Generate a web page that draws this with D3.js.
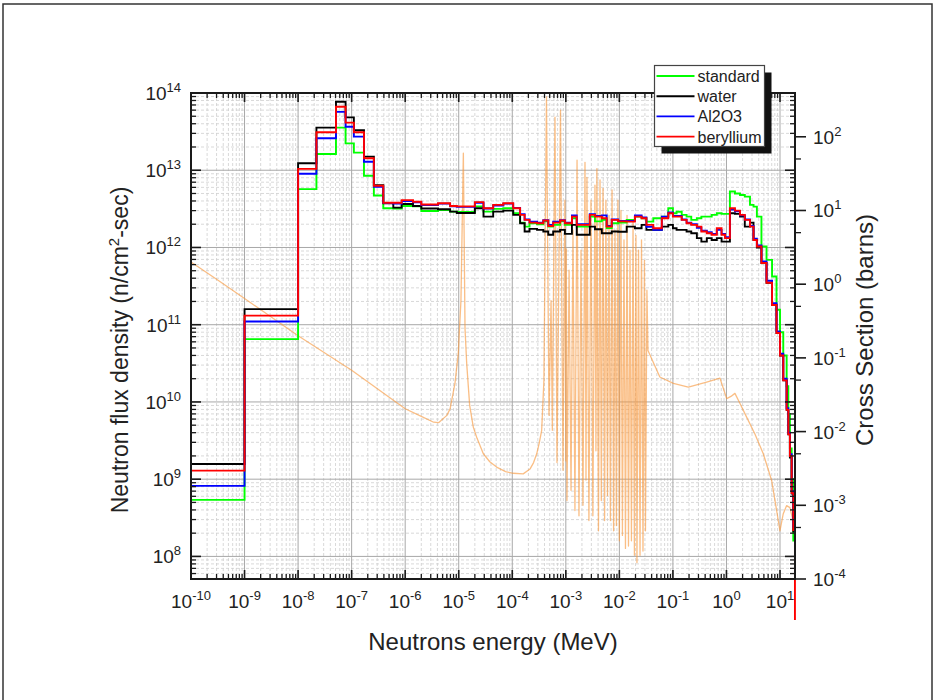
<!DOCTYPE html>
<html><head><meta charset="utf-8">
<script src="https://cdn.jsdelivr.net/npm/d3@7"></script>
<style>body{margin:0;background:#fff} svg{display:block} text{font-family:"Liberation Sans",Arial,sans-serif;fill:#222}</style>
</head><body><svg id="c" width="936" height="700"></svg>
<script>
// ---------- DATA ----------
const energyEdges = [1e-10,1e-9,1e-8,2.2e-8,5.1e-8,7.7e-8,1.1e-7,1.7e-7,2.6e-7,3.9e-7,6.0e-7,8.6e-7,1.4e-6,2.0e-6,4.1e-6,6.9e-6,9.2e-6,2.0e-5,2.9e-5,4.4e-5,6.8e-5,1.04e-4,1.4e-4,1.7e-4,2.1e-4,2.9e-4,3.8e-4,4.7e-4,5.8e-4,7.8e-4,9.6e-4,1.3e-3,1.6e-3,2.8e-3,3.5e-3,4.7e-3,5.8e-3,7.2e-3,9.5e-3,1.37e-2,1.95e-2,2.6e-2,3.2e-2,4.3e-2,6.2e-2,8.2e-2,0.10,0.117,0.146,0.18,0.22,0.28,0.34,0.43,0.53,0.66,0.81,0.94,1.16,1.44,1.79,2.2,2.75,3.2,3.7,4.5,5.6,7.1,8.6,10,11.5,13.3,14.3,15.3,16.5,17.7,19.0];

const fluxStandard = [5.4e8,6.5e10,5.7e12,1.62e13,3.56e13,2.23e13,1.69e13,8.5e12,4.7e12,3.22e12,3.2e12,3.45e12,3.4e12,2.97e12,3.06e12,2.91e12,2.88e12,3.4e12,2.91e12,3.16e12,3.22e12,2.78e12,2.1e12,1.86e12,2.06e12,2.0e12,2.18e12,1.86e12,1.96e12,2.18e12,1.96e12,2.39e12,1.86e12,2.51e12,2.18e12,2.28e12,1.78e12,2.06e12,2.1e12,2.28e12,2.51e12,2.39e12,2.16e12,2.39e12,2.51e12,3.22e12,2.78e12,2.9e12,2.64e12,2.51e12,2.28e12,2.39e12,2.51e12,2.51e12,2.64e12,2.78e12,2.72e12,2.72e12,5.3e12,5.0e12,4.79e12,4.56e12,3.56e12,3.38e12,2.51e12,1.03e12,6.9e11,4.2e11,1.56e11,8e10,4e10,1.6e10,7e9,2.5e9,1.0e9,1.6e8];

const fluxWater = [1.57e9,1.59e11,1.23e13,3.56e13,7.7e13,4.84e13,3.3e13,1.5e13,6.4e12,3.74e12,3.28e12,3.66e12,3.45e12,3.2e12,3.13e12,2.91e12,2.8e12,3.22e12,2.51e12,2.91e12,3.0e12,2.64e12,2.06e12,1.61e12,1.74e12,1.69e12,1.61e12,1.46e12,1.61e12,1.69e12,1.5e12,1.96e12,1.46e12,1.86e12,1.72e12,1.53e12,1.53e12,1.61e12,1.6e12,1.86e12,1.77e12,1.96e12,1.69e12,1.69e12,1.86e12,1.96e12,1.77e12,1.69e12,1.69e12,1.61e12,1.53e12,1.32e12,1.19e12,1.32e12,1.25e12,1.32e12,1.19e12,1.19e12,2.78e12,2.72e12,2.51e12,1.86e12,2.1e12,1.25e12,1.0e12,6.3e11,3.5e11,1.8e11,7.8e10,4.0e10,1.9e10,7.9e9,3.8e9,1.9e9,6.5e8,2.1e8];

const fluxAl2O3 = [8.2e8,1.10e11,9.0e12,2.6e13,5.7e13,3.66e13,2.72e13,1.29e13,6.1e12,3.75e12,3.7e12,4.0e12,3.85e12,3.55e12,3.7e12,3.4e12,3.35e12,3.8e12,3.2e12,3.5e12,3.7e12,3.25e12,2.7e12,2.3e12,2.15e12,2.1e12,2.25e12,1.95e12,2.15e12,2.25e12,2.1e12,2.6e12,2.0e12,2.7e12,2.55e12,2.6e12,1.9e12,2.3e12,2.2e12,2.2e12,2.6e12,2.45e12,1.85e12,1.69e12,2.5e12,2.85e12,2.55e12,2.55e12,2.3e12,2.1e12,2.0e12,1.8e12,1.65e12,1.58e12,1.5e12,1.69e12,1.5e12,1.36e12,3.1e12,2.95e12,2.6e12,2.3e12,1.9e12,1.3e12,1.06e12,6.6e11,3.7e11,1.9e11,8.2e10,4.2e10,2.0e10,8.3e9,4.0e9,2.1e9,7.0e8,2.4e8];

const fluxBeryllium = [1.29e9,1.31e11,1.04e13,3.1e13,6.65e13,4.13e13,3.1e13,1.43e13,6.3e12,3.8e12,3.8e12,4.1e12,3.9e12,3.6e12,3.74e12,3.45e12,3.4e12,3.86e12,3.22e12,3.56e12,3.74e12,3.22e12,2.64e12,2.28e12,2.1e12,2.06e12,2.23e12,1.9e12,2.1e12,2.23e12,2.06e12,2.51e12,1.96e12,2.64e12,2.51e12,2.39e12,1.86e12,2.28e12,2.18e12,2.16e12,2.51e12,2.39e12,1.96e12,1.77e12,2.39e12,2.78e12,2.51e12,2.51e12,2.28e12,2.06e12,1.96e12,1.86e12,1.61e12,1.53e12,1.46e12,1.77e12,1.46e12,1.32e12,3.22e12,3.0e12,2.64e12,2.28e12,1.86e12,1.25e12,1.03e12,6.3e11,3.5e11,1.8e11,7.8e10,4.0e10,1.9e10,7.9e9,3.8e9,2.0e9,6.6e8,2.2e8];
const berylliumEndValue = 1.5e7;

const xsEnergy = [1e-10,3.2e-10,1e-9,1e-8,1e-7,1e-6,2e-6,3.4e-6,4.2e-6,6.0e-6,6.9e-6,8.5e-6,9.8e-6,1.1e-5,1.22e-5,1.31e-5,1.41e-5,1.6e-5,1.87e-5,2.2e-5,2.88e-5,3.8e-5,5.1e-5,7.5e-5,1.04e-4,1.6e-4,2.14e-4,2.5e-4,2.86e-4,3.2e-4,3.54e-4,3.9e-4,4.35e-4,4.85e-4,5.3e-4,5.6e-4,6.27e-4,6.84e-4,7.95e-4,8.85e-4,9.6e-4,1.0e-3,1.02e-3,1.05e-3,1.15e-3,1.25e-3,1.36e-3,1.48e-3,1.62e-3,1.76e-3,1.92e-3,2.09e-3,2.28e-3,2.38e-3,2.48e-3,2.7e-3,2.95e-3,3.2e-3,3.5e-3,3.65e-3,3.8e-3,4.07e-3,4.35e-3,4.6e-3,4.95e-3,5.3e-3,5.6e-3,6.0e-3,6.4e-3,6.8e-3,7.3e-3,7.8e-3,8.3e-3,8.8e-3,9.4e-3,1.0e-2,1.07e-2,1.14e-2,1.22e-2,1.3e-2,1.39e-2,1.48e-2,1.58e-2,1.68e-2,1.8e-2,1.91e-2,2.04e-2,2.13e-2,2.28e-2,2.43e-2,2.59e-2,2.76e-2,2.94e-2,3.07e-2,3.27e-2,3.42e-2,5.7e-2,0.102,0.194,0.427,0.757,1.01,1.21,1.44,1.79,2.38,3.4,4.87,6.98,8.65,9.97,11.5,13.3,15.3,17.5,19.0];
const xsValue = [2.0,1.13,0.64,0.2,0.068,0.0204,0.0161,0.0134,0.0132,0.0166,0.0204,0.045,0.114,0.6,60,0.25,0.083,0.0227,0.0115,0.0081,0.005,0.0039,0.0033,0.00287,0.00272,0.00267,0.0031,0.0038,0.005,0.0071,0.0104,0.05,347,0.0166,0.6,0.0104,185,0.0038,230,0.003,13.8,0.004,3.0,0.00116,1.55,0.0016,5.4,0.00085,48,0.00072,2.9,0.001,45,0.0022,28,0.00062,13.8,0.00072,22,0.0055,37,0.00045,26,0.00116,20,0.00062,13.8,0.00135,8.6,0.00062,19,0.00045,5.4,0.00053,13.8,0.00033,10,0.00039,4.0,0.00026,8.6,0.00028,2.9,0.00033,7.4,0.00021,4.6,0.000167,2.9,0.00021,4.0,0.00024,2.1,0.00045,0.83,0.126,0.055,0.045,0.040,0.047,0.053,0.028,0.030,0.033,0.024,0.0157,0.0093,0.005,0.00217,0.00085,0.00045,0.00077,0.00099,0.00093,0.00062,0.00033];

const seriesNames = ["standard","water","Al2O3","beryllium"];
const seriesColors = ["#00ff00","#000000","#0000ff","#ff0000"];
const xTickExps = [-10,-9,-8,-7,-6,-5,-4,-3,-2,-1,0,1];
const yLeftTickExps = [8,9,10,11,12,13,14];
const yRightTickExps = [-4,-3,-2,-1,0,1,2];

// ---------- CHART ----------
const svg = d3.select("#c");
const P = {l:191, r:795, t:93, b:579};
const x = d3.scaleLog().domain([1e-10, 19.05]).range([P.l, P.r]);
const yL = d3.scaleLog().domain([5.1e7, 1e14]).range([P.b, P.t]);
const yR = d3.scaleLog().domain([1e-4, 392.6]).range([P.b, P.t]);

function minors(dom){
  const lo=dom[0], hi=dom[1], out=[];
  for(let e=Math.floor(Math.log10(lo)); e<=Math.ceil(Math.log10(hi)); e++)
    for(let m=2;m<=9;m++){ const v=m*Math.pow(10,e); if(v>lo*1.0001 && v<hi/1.0001) out.push(v); }
  return out;
}
const xMin = minors(x.domain()), yMin = minors(yL.domain());
const xMaj = xTickExps.map(e=>Math.pow(10,e));
const yMaj = yLeftTickExps.map(e=>Math.pow(10,e));
const rMaj = yRightTickExps.map(e=>Math.pow(10,e));

// outer frame
svg.append("rect").attr("x",3).attr("y",4).attr("width",929).attr("height",700)
  .attr("fill","none").attr("stroke","#333").attr("stroke-width",1.5);

// grid
const g = svg.append("g");
g.selectAll(".gxm").data(xMin).enter().append("line")
  .attr("x1",d=>x(d)).attr("x2",d=>x(d)).attr("y1",P.t).attr("y2",P.b)
  .attr("stroke","#cfcfcf").attr("stroke-width",0.8).attr("stroke-dasharray","3,2");
g.selectAll(".gym").data(yMin).enter().append("line")
  .attr("y1",d=>yL(d)).attr("y2",d=>yL(d)).attr("x1",P.l).attr("x2",P.r)
  .attr("stroke","#cfcfcf").attr("stroke-width",0.8).attr("stroke-dasharray","3,2");
g.selectAll(".gx").data(xMaj).enter().append("line")
  .attr("x1",d=>x(d)).attr("x2",d=>x(d)).attr("y1",P.t).attr("y2",P.b)
  .attr("stroke","#a8a8a8").attr("stroke-width",1);
g.selectAll(".gy").data(yMaj).enter().append("line")
  .attr("y1",d=>yL(d)).attr("y2",d=>yL(d)).attr("x1",P.l).attr("x2",P.r)
  .attr("stroke","#a8a8a8").attr("stroke-width",1);

// cross section curve
svg.append("path")
  .datum(xsEnergy.map((e,i)=>[e,xsValue[i]]))
  .attr("d", d3.line().x(d=>x(d[0])).y(d=>yR(d[1])))
  .attr("fill","none").attr("stroke","#f7963a").attr("stroke-opacity",0.62).attr("stroke-width",1.3)
  .attr("stroke-linejoin","round");

// flux step series
const allSeries = [fluxStandard, fluxWater, fluxAl2O3, fluxBeryllium];
const stepLine = d3.line().x(d=>x(d[0])).y(d=>yL(d[1]));
allSeries.forEach((vals,si)=>{
  const pts=[];
  vals.forEach((v,i)=>{ pts.push([energyEdges[i],v]); pts.push([energyEdges[i+1],v]); });
  if(si===3) pts.push([energyEdges[energyEdges.length-1], berylliumEndValue]);
  svg.append("path").datum(pts).attr("d",stepLine)
    .attr("fill","none").attr("stroke",seriesColors[si]).attr("stroke-width",1.9)
    .attr("stroke-linejoin","miter");
});

// axes frame & ticks
const ax = svg.append("g").attr("stroke","#1a1a1a");
function tick(x1,y1,x2,y2,w){ ax.append("line").attr("x1",x1).attr("y1",y1).attr("x2",x2).attr("y2",y2).attr("stroke-width",w||1.3); }
xMaj.forEach(v=>{ tick(x(v),P.b,x(v),P.b-9,1.6); tick(x(v),P.t,x(v),P.t+9,1.6); });
xMin.forEach(v=>{ tick(x(v),P.b,x(v),P.b-5); tick(x(v),P.t,x(v),P.t+5); });
yMaj.forEach(v=>{ tick(P.l,yL(v),P.l+10,yL(v),1.6); tick(P.r,yL(v),P.r-10,yL(v),1.6); });
yMin.forEach(v=>{ tick(P.l,yL(v),P.l+5,yL(v)); tick(P.r,yL(v),P.r-5,yL(v)); });
rMaj.forEach(v=>{ tick(P.r,yR(v),P.r+11,yR(v),1.6); });
rMaj.map(v=>v*5).filter(v=>v<yR.domain()[1]).forEach(v=>{ tick(P.r,yR(v),P.r+6,yR(v)); });
ax.append("rect").attr("x",P.l).attr("y",P.t).attr("width",P.r-P.l).attr("height",P.b-P.t)
  .attr("fill","none").attr("stroke-width",2);

// tick labels
function powLabel(sel, e){
  sel.text("10");
  sel.append("tspan").attr("dy",-8).attr("font-size",13).text(e);
}
xTickExps.forEach(e=>{
  const t=svg.append("text").attr("x",x(Math.pow(10,e))).attr("y",608)
    .attr("text-anchor","middle").attr("font-size",19);
  powLabel(t,e);
});
yLeftTickExps.forEach(e=>{
  const t=svg.append("text").attr("x",181).attr("y",yL(Math.pow(10,e))+7)
    .attr("text-anchor","end").attr("font-size",19);
  powLabel(t,e);
});
yRightTickExps.forEach(e=>{
  const t=svg.append("text").attr("x",813).attr("y",yR(Math.pow(10,e))+7)
    .attr("text-anchor","start").attr("font-size",19);
  powLabel(t,e);
});

// axis titles
svg.append("text").attr("x",(P.l+P.r)/2).attr("y",650).attr("text-anchor","middle")
  .attr("font-size",24).text("Neutrons energy (MeV)");
const lt = svg.append("text").attr("transform",`translate(128,${(P.t+P.b)/2+14}) rotate(-90)`)
  .attr("text-anchor","middle").attr("font-size",23);
lt.append("tspan").text("Neutron flux density (n/cm");
lt.append("tspan").attr("dy",-9).attr("font-size",15).text("2");
lt.append("tspan").attr("dy",9).text("-sec)");
svg.append("text").attr("transform",`translate(873,${(P.t+P.b)/2-6}) rotate(-90)`)
  .attr("text-anchor","middle").attr("font-size",24).text("Cross Section (barns)");

// legend
const L = {x:654.5, y:65.5, w:110, h:81};
svg.append("rect").attr("x",L.x+7).attr("y",L.y+7).attr("width",L.w).attr("height",L.h).attr("fill","#111");
svg.append("rect").attr("x",L.x).attr("y",L.y).attr("width",L.w).attr("height",L.h)
  .attr("fill","#fff").attr("stroke","#444").attr("stroke-width",1.2);
seriesNames.forEach((n,i)=>{
  const yy = L.y + 10.5 + i*20.2;
  svg.append("line").attr("x1",L.x+2).attr("x2",L.x+40).attr("y1",yy).attr("y2",yy)
    .attr("stroke",seriesColors[i]).attr("stroke-width",1.9);
  svg.append("text").attr("x",L.x+43).attr("y",yy+6).attr("font-size",16).text(n);
});
</script>
</body></html>
